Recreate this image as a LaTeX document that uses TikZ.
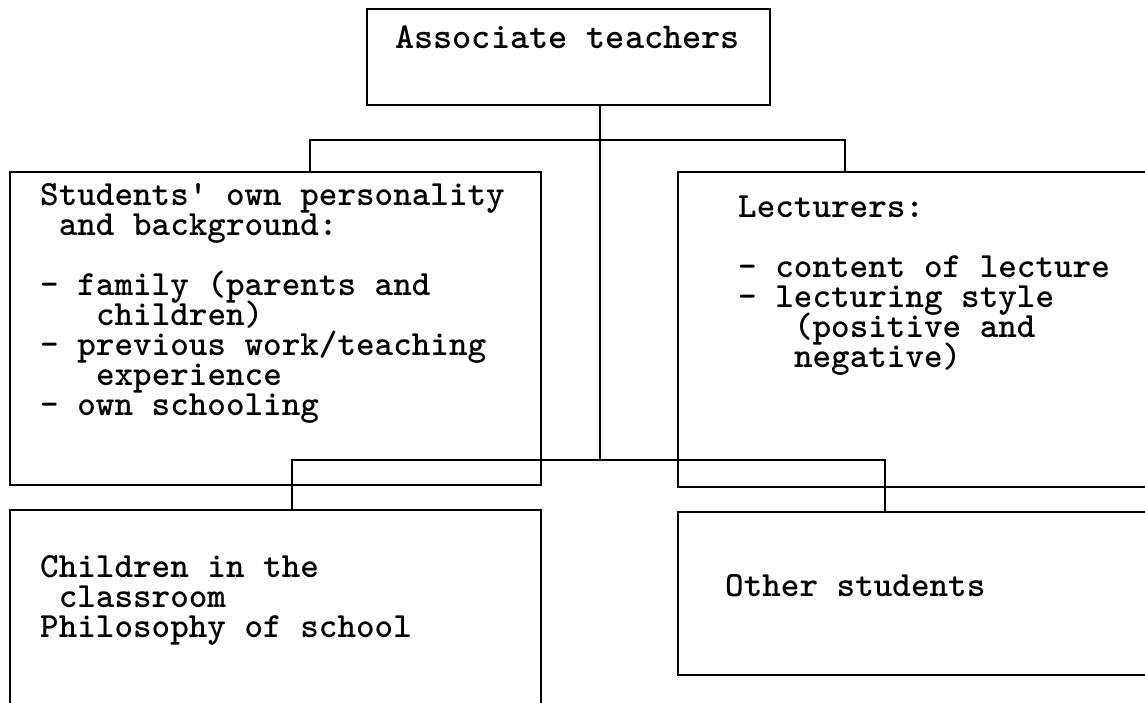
\documentclass[tikz,border=0pt]{standalone}
\usepackage{fontspec}
\newcommand{\tightlines}{\lineskiplimit=-100pt\relax\lineskip=0pt\relax}
\begin{document}
\begin{tikzpicture}[x=1pt,y=-1pt,
  box/.style={draw,line width=1.4pt,rectangle,inner sep=0pt},
  conn/.style={line width=1.2pt},
  txt/.style={inner sep=0pt,align=left,anchor=base west,
    font=\ttfamily\bfseries\fontsize{35.4}{30}\selectfont\tightlines}]
\useasboundingbox (0,0) rectangle (1145,702);
\newcommand{\ind}[1]{\hspace*{#1\dimexpr 18.6pt\relax}}
% boxes
\node[box,minimum width=403pt,minimum height=96pt] (top) at (568.5,57) {};
\node[box,minimum width=531pt,minimum height=313pt] (l1) at (275.5,328.5) {};
\node[box,minimum width=480pt,minimum height=315pt] (r1) at (918,329.5) {};
\node[box,minimum width=531pt,minimum height=200pt] (l2) at (275.5,610) {};
\node[box,minimum width=480pt,minimum height=163pt] (r2) at (918,593.5) {};
% texts (anchored at the baseline of their last line)
\node[txt,font=\ttfamily\bfseries\fontsize{36.5}{30}\selectfont] (ttop) at (395,48) {Associate teachers};
\node[txt] (tl1) at (40,415) {Students' own personality\\
\ind{1}and background:\\
\strut\\
- family (parents and\\
\ind{3}children)\\
- previous work/teaching\\
\ind{3}experience\\
- own schooling};
\node[txt] (tr1) at (738,367) {Lecturers:\\
\strut\\
- content of lecture\\
- lecturing style\\
\ind{3}(positive and\\
\ind{3}negative)};
\node[txt] (tl2) at (40,637) {Children in the\\
\ind{1}classroom\\
Philosophy of school};
\node[txt] (tr2) at (725,596) {Other students};
% connectors
\coordinate (j1) at (600,140);
\coordinate (j2) at (600,460);
\coordinate (l1c) at (310,172);
\coordinate (r1c) at (845,172);
\coordinate (l2c) at (292,510);
\coordinate (r2c) at (885,512);
\draw[conn] (top.south -| j1) -- (j2);
\draw[conn] (l1c) |- (j1) -| (r1c);
\draw[conn] (l2c) |- (j2) -| (r2c);
\end{tikzpicture}
\end{document}
